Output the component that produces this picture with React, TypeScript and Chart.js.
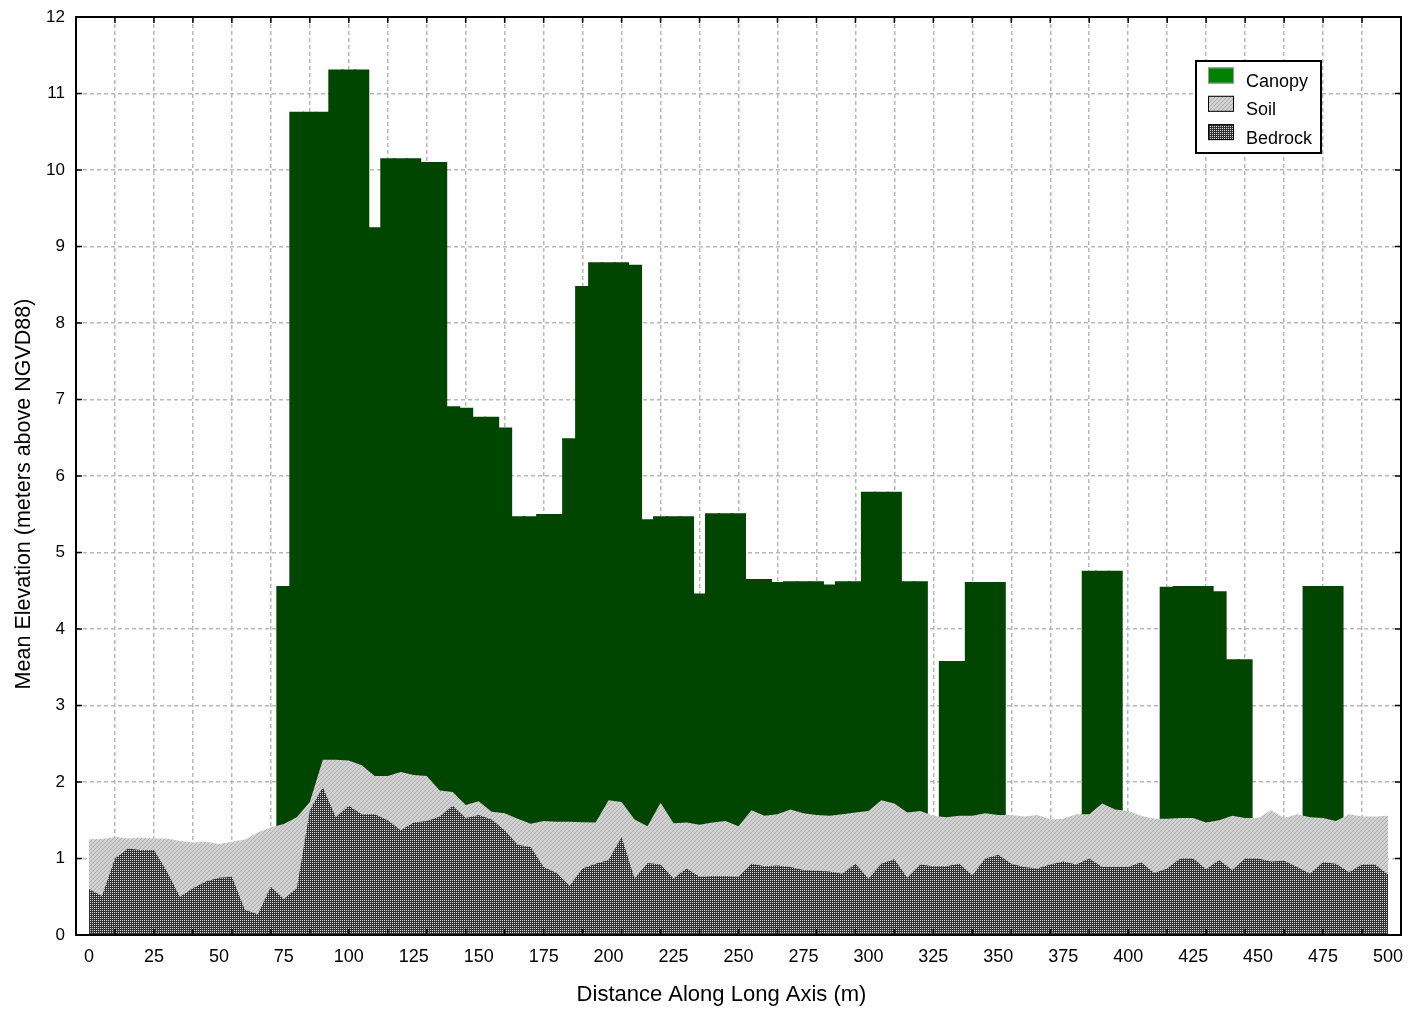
import React, { useEffect, useRef } from 'react';
import { Chart, registerables } from 'chart.js';

Chart.register(...registerables);

// Sample positions along the long axis (m), every 5 m
const distances: number[] = Array.from({ length: 101 }, (_, i) => i * 5);

// Canopy mean elevation per 5 m bin (null = no canopy)
const canopy: (number | null)[] = [
  null, null, null, null, null, null, null, null, null, null, null, null, null, null, null, // 0-70
  4.55, // 75
  10.75, 10.75, 10.75, // 80-90
  11.3, 11.3, 11.3, // 95-105
  9.24, // 110
  10.14, 10.14, 10.14, // 115-125
  10.09, 10.09, // 130-135
  6.9, 6.88, // 140-145
  6.76, 6.76, // 150-155
  6.62, // 160
  5.46, 5.46, // 165-170
  5.49, 5.49, // 175-180
  6.48, // 185
  8.47, // 190
  8.78, 8.78, 8.78, // 195-205
  8.75, // 210
  5.42, // 215
  5.46, 5.46, 5.46, // 220-230
  4.45, // 235
  5.5, 5.5, 5.5, // 240-250
  4.64, 4.64, // 255-260
  4.6, // 265
  4.61, 4.61, 4.61, // 270-280
  4.57, // 285
  4.61, 4.61, // 290-295
  5.78, 5.78, 5.78, // 300-310
  4.61, 4.61, // 315-320
  null, // 325
  3.57, 3.57, // 330-335
  4.6, 4.6, 4.6, // 340-350
  null, null, null, null, null, null, // 355-380
  4.75, 4.75, 4.75, // 385-395
  null, null, null, // 400-410
  4.54, // 415
  4.55, 4.55, 4.55, // 420-430
  4.48, // 435
  3.59, 3.59, // 440-445
  null, null, null, null, // 450-465
  4.55, 4.55, 4.55, // 470-480
  null, null, null, null, // 485-500
];

// Soil surface elevation
const soil: number[] = [
  1.25, 1.255, 1.28, 1.26, 1.27, 1.26, 1.26, 1.23, 1.21, 1.22, // 0-45
  1.19, 1.22, 1.25, 1.34, 1.41, 1.45, 1.54, 1.74, 2.29, 2.29, // 50-95
  2.28, 2.22, 2.08, 2.08, 2.13, 2.09, 2.08, 1.89, 1.87, 1.7, // 100-145
  1.75, 1.61, 1.59, 1.52, 1.455, 1.49, 1.48, 1.48, 1.475, 1.47, // 150-195
  1.76, 1.74, 1.51, 1.42, 1.73, 1.46, 1.47, 1.44, 1.47, 1.49, // 200-245
  1.42, 1.63, 1.56, 1.58, 1.64, 1.59, 1.57, 1.56, 1.58, 1.6, // 250-295
  1.62, 1.76, 1.72, 1.6, 1.62, 1.56, 1.54, 1.56, 1.56, 1.59, // 300-345
  1.57, 1.57, 1.55, 1.57, 1.51, 1.52, 1.58, 1.58, 1.72, 1.64, // 350-395
  1.62, 1.56, 1.52, 1.52, 1.53, 1.53, 1.47, 1.5, 1.56, 1.53, // 400-445
  1.53, 1.63, 1.53, 1.58, 1.54, 1.53, 1.49, 1.58, 1.55, 1.55, // 450-495
  1.56, // 500
];

// Bedrock surface elevation
const bedrock: number[] = [
  0.6, 0.51, 1.0, 1.13, 1.11, 1.11, 0.83, 0.5, 0.61, 0.7, // 0-45
  0.75, 0.76, 0.33, 0.27, 0.63, 0.47, 0.61, 1.63, 1.93, 1.54, // 50-95
  1.69, 1.58, 1.58, 1.5, 1.37, 1.47, 1.49, 1.55, 1.69, 1.53, // 100-145
  1.57, 1.51, 1.37, 1.18, 1.15, 0.89, 0.81, 0.645, 0.87, 0.93, // 150-195
  0.98, 1.28, 0.74, 0.94, 0.92, 0.74, 0.87, 0.76, 0.77, 0.77, // 200-245
  0.76, 0.93, 0.9, 0.91, 0.89, 0.85, 0.84, 0.83, 0.8, 0.93, // 250-295
  0.74, 0.93, 0.99, 0.75, 0.92, 0.9, 0.9, 0.93, 0.78, 1.0, // 300-345
  1.05, 0.93, 0.89, 0.87, 0.92, 0.96, 0.92, 1.0, 0.89, 0.89, // 350-395
  0.89, 0.95, 0.81, 0.87, 1.0, 1.0, 0.86, 0.98, 0.85, 1.0, // 400-445
  1.0, 0.96, 0.97, 0.89, 0.8, 0.95, 0.93, 0.82, 0.92, 0.92, // 450-495
  0.79, // 500
];

// Axis ticks
const xGridValues: number[] = [
  -5, 10, 25, 40, 55, 70, 85, 100, 115, 130, 145, 160, 175, 190, 205, 220, 235, 250,
  265, 280, 295, 310, 325, 340, 355, 370, 385, 400, 415, 430, 445, 460, 475, 490, 505,
];
const xLabelValues: number[] = [
  0, 25, 50, 75, 100, 125, 150, 175, 200, 225, 250, 275, 300, 325, 350, 375, 400, 425, 450, 475, 500,
];
const yTickValues: number[] = [0, 1, 2, 3, 4, 5, 6, 7, 8, 9, 10, 11, 12];

const seriesLabels = ['Canopy', 'Soil', 'Bedrock'];
const xTitle = 'Distance Along Long Axis (m)';
const yTitle = 'Mean Elevation (meters above NGVD88)';

const FONT = '"Liberation Sans", Arial, sans-serif';

function makeSoilPattern(): CanvasPattern | string {
  const c = document.createElement('canvas');
  c.width = 4;
  c.height = 4;
  const g = c.getContext('2d');
  if (!g) return '#c4c4c4';
  g.fillStyle = '#d2d2d2';
  g.fillRect(0, 0, 4, 4);
  g.fillStyle = '#ababab';
  for (let i = 0; i < 4; i++) g.fillRect(3 - i, i, 1, 1);
  return g.createPattern(c, 'repeat') || '#c4c4c4';
}

function makeBedrockPattern(): CanvasPattern | string {
  const c = document.createElement('canvas');
  c.width = 2;
  c.height = 2;
  const g = c.getContext('2d');
  if (!g) return '#606060';
  g.fillStyle = '#333333';
  g.fillRect(0, 0, 2, 2);
  g.fillStyle = '#d8d8d8';
  g.fillRect(0, 0, 1, 1);
  return g.createPattern(c, 'repeat') || '#606060';
}

export default function App() {
  const ref = useRef<HTMLCanvasElement | null>(null);

  useEffect(() => {
    if (!ref.current) return;
    const soilPattern = makeSoilPattern();
    const bedrockPattern = makeBedrockPattern();
    const canopyColor = '#004600';
    const gridSet = new Set(xGridValues);
    const labelSet = new Set(xLabelValues);
    const xTicks = Array.from(new Set([...xGridValues, ...xLabelValues])).sort((a, b) => a - b);

    const framePlugin = {
      id: 'frameAndLegend',
      afterDraw(chart: any) {
        const { ctx, chartArea } = chart;
        const { left, top, right, bottom } = chartArea;
        const xs = chart.scales.x;
        const ys = chart.scales.y;
        ctx.save();
        // inward ticks
        ctx.strokeStyle = '#000';
        ctx.lineWidth = 1.5;
        ctx.beginPath();
        xGridValues.forEach((v) => {
          const px = xs.getPixelForValue(v);
          ctx.moveTo(px, bottom);
          ctx.lineTo(px, bottom - 6);
          ctx.moveTo(px, top);
          ctx.lineTo(px, top + 6);
        });
        yTickValues.forEach((v) => {
          const py = ys.getPixelForValue(v);
          ctx.moveTo(left, py);
          ctx.lineTo(left + 6, py);
          ctx.moveTo(right, py);
          ctx.lineTo(right - 6, py);
        });
        ctx.stroke();
        // frame
        ctx.lineWidth = 2;
        ctx.strokeRect(left, top, right - left, bottom - top);

        // axis titles
        ctx.fillStyle = '#000';
        ctx.font = `22px ${FONT}`;
        ctx.textAlign = 'center';
        ctx.textBaseline = 'middle';
        ctx.fillText(xTitle, (left + right) / 2 - 17, bottom + 60);
        ctx.save();
        ctx.font = `21.5px ${FONT}`;
        ctx.translate(left - 52, (top + bottom) / 2 + 18);
        ctx.rotate(-Math.PI / 2);
        ctx.fillText(yTitle, 0, 0);
        ctx.restore();

        // legend box
        const bx1 = right - 80;
        const bx0 = bx1 - 125;
        const by0 = top + 44;
        const by1 = top + 136;
        ctx.fillStyle = '#ffffff';
        ctx.fillRect(bx0, by0, bx1 - bx0, by1 - by0);
        ctx.lineWidth = 2;
        ctx.strokeStyle = '#000';
        ctx.strokeRect(bx0, by0, bx1 - bx0, by1 - by0);
        const fills = ['#008000', soilPattern, bedrockPattern];
        const strokes = ['#9a9a9a', '#000', '#000'];
        ctx.font = `18px ${FONT}`;
        ctx.textBaseline = 'middle';
        ctx.textAlign = 'left';
        seriesLabels.forEach((lab, i) => {
          const cy = by0 + 14.5 + i * 28.3;
          const sx = bx0 + 12;
          ctx.fillStyle = fills[i] as any;
          ctx.fillRect(sx, cy - 8, 26, 16);
          ctx.lineWidth = 1;
          ctx.strokeStyle = strokes[i];
          ctx.strokeRect(sx + 0.5, cy - 7.5, 25, 15);
          ctx.fillStyle = '#000';
          ctx.fillText(lab, bx0 + 50, cy + 6.5);
        });
        ctx.restore();
      },
    };

    const chart = new Chart(ref.current, {
      type: 'bar',
      data: {
        datasets: [
          {
            type: 'bar',
            label: seriesLabels[0],
            data: distances.map((d, i) => ({ x: d, y: canopy[i] })) as any,
            backgroundColor: canopyColor,
            borderWidth: 0,
            inflateAmount: 1,
            barPercentage: 1,
            categoryPercentage: 1,
            order: 3,
          } as any,
          {
            type: 'line',
            label: seriesLabels[1],
            data: distances.map((d, i) => ({ x: d, y: soil[i] })) as any,
            backgroundColor: soilPattern as any,
            borderColor: 'rgba(0,0,0,0)',
            borderWidth: 0,
            pointRadius: 0,
            tension: 0,
            fill: 'origin',
            order: 2,
          } as any,
          {
            type: 'line',
            label: seriesLabels[2],
            data: distances.map((d, i) => ({ x: d, y: bedrock[i] })) as any,
            backgroundColor: bedrockPattern as any,
            borderColor: 'rgba(0,0,0,0)',
            borderWidth: 0,
            pointRadius: 0,
            tension: 0,
            fill: 'origin',
            order: 1,
          } as any,
        ],
      },
      options: {
        animation: false,
        responsive: true,
        maintainAspectRatio: false,
        layout: { padding: { top: 17, right: 7, left: 0, bottom: 0 } },
        plugins: {
          legend: { display: false },
          tooltip: { enabled: false },
        },
        scales: {
          x: {
            type: 'linear',
            min: -5,
            max: 505,
            offset: false,
            afterBuildTicks: (s: any) => {
              s.ticks = xTicks.map((v) => ({ value: v }));
            },
            afterFit: (s: any) => {
              s.height = 76;
              s.paddingLeft = 0;
              s.paddingRight = 0;
              s.paddingTop = 0;
              s.paddingBottom = 0;
            },
            grid: {
              offset: false,
              drawTicks: false,
              lineWidth: 1.5,
              color: (c: any) => (c.tick && gridSet.has(c.tick.value) ? '#b8b8b8' : 'rgba(0,0,0,0)'),
            },
            border: { display: false, dash: [4, 3] },
            ticks: {
              autoSkip: false,
              maxRotation: 0,
              minRotation: 0,
              padding: 11,
              color: '#000',
              font: { family: FONT, size: 18 },
              callback: (v: any) => (labelSet.has(Number(v)) ? String(v) : ''),
            },
            title: { display: false },
          },
          y: {
            type: 'linear',
            min: 0,
            max: 12,
            afterBuildTicks: (s: any) => {
              s.ticks = yTickValues.map((v) => ({ value: v }));
            },
            afterFit: (s: any) => {
              s.width = 76;
              s.paddingLeft = 0;
              s.paddingRight = 0;
              s.paddingTop = 0;
              s.paddingBottom = 0;
            },
            grid: {
              drawTicks: false,
              lineWidth: 1.5,
              color: '#b8b8b8',
            },
            border: { display: false, dash: [4, 3] },
            ticks: {
              padding: 11,
              color: '#000',
              font: { family: FONT, size: 17 },
            },
            title: { display: false },
          },
        },
      } as any,
      plugins: [framePlugin],
    });

    return () => chart.destroy();
  }, []);

  return (
    <div style={{ position: 'absolute', left: 0, top: 0, width: '1408px', height: '1011px' }}>
      <canvas ref={ref} style={{ display: 'block' }} />
    </div>
  );
}
